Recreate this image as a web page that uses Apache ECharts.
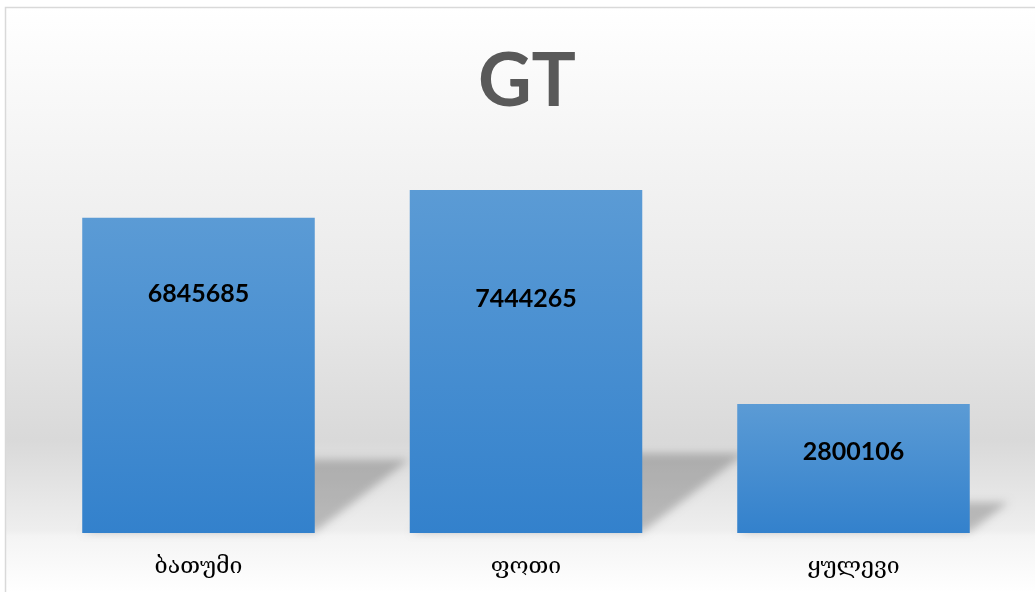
<!DOCTYPE html>
<html>
<head>
<meta charset="utf-8">
<script src="https://cdn.jsdelivr.net/npm/echarts@6/dist/echarts.min.js"></script>
<style>
html,body{margin:0;padding:0;background:#fff;}
#chart{width:1035px;height:592px;}
</style>
</head>
<body>
<div id="chart"></div>
<script>
const titleText = 'GT';
const categories = ['ბათუმი', 'ფოთი', 'ყულევი'];
const values = [6845685, 7444265, 2800106];
const labelOffsets = [64, 96, 35];
const yMax = 8000000;

const chart = echarts.init(document.getElementById('chart'));
const SHIFT = 3000;

function shadowItem(params, api) {
  const idx = api.value(0), v = api.value(1);
  const base = api.coord([idx, 0]);
  const top = api.coord([idx, v]);
  const band = api.size([1, 0])[0];
  const w = band * 0.71;
  const h = base[1] - top[1];
  const xL = base[0] - w / 2 + 2, xR = base[0] + w / 2, y0 = base[1] - 1;
  const dx = h * 0.3, dy = h * 0.23;
  return {
    type: 'polygon',
    shape: { points: [[xL - SHIFT, y0], [xR - SHIFT, y0], [xR + dx - SHIFT, y0 - dy], [xL + dx - SHIFT, y0 - dy]] },
    style: {
      fill: '#000',
      shadowBlur: 9,
      shadowColor: 'rgba(0,0,0,0.22)',
      shadowOffsetX: SHIFT,
      shadowOffsetY: 0
    }
  };
}

chart.setOption({
  animation: false,
  graphic: [{
    type: 'rect',
    z: -10,
    silent: true,
    shape: { x: 5.5, y: 7.5, width: 1040, height: 600 },
    style: {
      fill: new echarts.graphic.LinearGradient(0, 0, 0, 1, [
        { offset: 0, color: '#ffffff' },
        { offset: 0.22, color: '#f5f5f5' },
        { offset: 0.49, color: '#e9e9e9' },
        { offset: 0.72, color: '#d9d9d9' },
        { offset: 0.87, color: '#eeeeee' },
        { offset: 0.88, color: '#f4f4f4' },
        { offset: 0.975, color: '#ffffff' },
        { offset: 1, color: '#ffffff' }
      ]),
      stroke: '#d9d9d9',
      lineWidth: 1.5
    }
  }, {
    type: 'text',
    z: 5,
    silent: true,
    x: 527,
    y: 82,
    style: {
      text: titleText,
      fontFamily: 'Lato',
      fontWeight: 'bold',
      fontSize: 74,
      fill: '#595959',
      align: 'center',
      verticalAlign: 'middle'
    }
  }],
  grid: { left: 34.75, right: 17.75, top: 164.5, bottom: 59 },
  xAxis: {
    type: 'category',
    data: categories,
    axisLine: { show: false },
    axisTick: { show: false },
    axisLabel: { fontFamily: 'DejaVu Serif', fontSize: 23, color: '#000', margin: 23 }
  },
  yAxis: {
    type: 'value',
    min: 0,
    max: yMax,
    show: false,
    splitLine: { show: false }
  },
  series: [{
    type: 'custom',
    z: 1,
    silent: true,
    renderItem: shadowItem,
    data: values.map((v, i) => [i, v])
  }, {
    type: 'bar',
    z: 2,
    barCategoryGap: '29%',
    data: values.map((v, i) => ({
      value: v,
      label: { offset: [0, labelOffsets[i]] }
    })),
    itemStyle: {
      color: new echarts.graphic.LinearGradient(0, 0, 0, 1, [
        { offset: 0, color: '#5b9bd5' },
        { offset: 1, color: '#3381cc' }
      ])
    },
    label: {
      show: true,
      position: 'insideTop',
      distance: 0,
      fontFamily: 'Lato',
      fontWeight: 'bold',
      fontSize: 25,
      color: '#000'
    }
  }]
});
</script>
</body>
</html>
